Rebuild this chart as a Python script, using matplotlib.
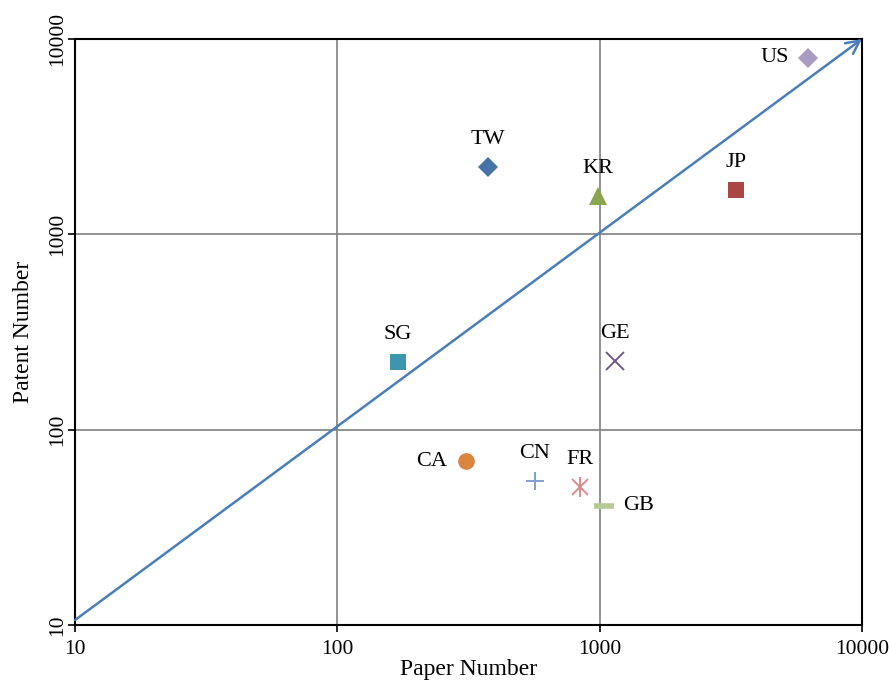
import matplotlib
matplotlib.use("Agg")
import matplotlib.pyplot as plt

plt.rcParams['font.family'] = ['Liberation Serif', 'DejaVu Serif']

# country data: paper count vs patent count
countries = ['TW', 'KR', 'JP', 'US', 'SG', 'GE', 'CA', 'CN', 'FR', 'GB']
papers = [375, 986, 3313, 6234, 170, 1145, 310, 567, 842, 1040]
patents = [2213, 1573, 1688, 8000, 222, 225, 69, 54.6, 50.9, 40.7]
markers = ['D', '^', 's', 'D', 's', 'x', 'o', '+', 'asterisk', '_']
colors = ['#4572A7', '#89A54E', '#AA4643', '#A99BC4', '#3D96AE',
          '#71588F', '#DB843D', '#7F9FD0', '#D98C8C', '#B5CA92']
label_pos = ['above', 'above', 'above', 'left', 'above',
             'above', 'left', 'above', 'above', 'right']

ticks = [10, 100, 1000, 10000]

fig = plt.figure(figsize=(8.89, 6.82), dpi=100)
ax = fig.add_axes([0.0844, 0.0836, 0.8852, 0.8592])
ax.set_xscale('log')
ax.set_yscale('log')
ax.set_xlim(10, 10000)
ax.set_ylim(10, 10000)

ax.grid(True, which='major', color='#808080', linewidth=1.2)
ax.set_axisbelow(True)

# diagonal reference arrow
ax.annotate('', xy=(10000, 10000), xytext=(10, 10.6),
            arrowprops=dict(arrowstyle='->', color='#4A7EBB', lw=1.8,
                            mutation_scale=24, shrinkA=0, shrinkB=0),
            annotation_clip=False)

for name, x, y, m, c, pos in zip(countries, papers, patents, markers, colors, label_pos):
    if m == 'asterisk':
        ax.plot(x, y, marker='x', color=c, markersize=11, markeredgewidth=1.4,
                linestyle='none', zorder=3)
        ax.plot(x, y, marker='|', color=c, markersize=14, markeredgewidth=1.4,
                linestyle='none', zorder=3)
    elif m in ('x', '+'):
        ax.plot(x, y, marker=m, color=c, markersize=13, markeredgewidth=1.4,
                linestyle='none', zorder=3)
    elif m == '_':
        ax.plot(x, y, marker=m, color=c, markersize=15, markeredgewidth=4,
                linestyle='none', zorder=3)
    else:
        size = {'D': 10, '^': 13, 's': 12, 'o': 12}[m]
        ax.plot(x, y, marker=m, color=c, markersize=size, markeredgewidth=0,
                linestyle='none', zorder=3)
    if pos == 'above':
        ax.annotate(name, (x, y), xytext=(0, 20), textcoords='offset points',
                    ha='center', va='center', fontsize=16)
    elif pos == 'left':
        ax.annotate(name, (x, y), xytext=(-14, 0), textcoords='offset points',
                    ha='right', va='center', fontsize=16)
    else:
        ax.annotate(name, (x, y), xytext=(14, 0), textcoords='offset points',
                    ha='left', va='center', fontsize=16)

ax.set_xticks(ticks)
ax.set_yticks(ticks)
ax.set_xticklabels([str(t) for t in ticks], fontsize=15.5)
ax.set_yticklabels([str(t) for t in ticks], fontsize=15.5, rotation=90, va='center')
ax.minorticks_off()
ax.tick_params(direction='out', length=5, width=1.2, colors='black')
ax.tick_params(axis='x', pad=6)
ax.tick_params(axis='y', pad=1)
for s in ax.spines.values():
    s.set_linewidth(1.5)
    s.set_color('black')

ax.set_xlabel('Paper Number', fontsize=17, labelpad=0)
ax.set_ylabel('Patent Number', fontsize=17, labelpad=10)

fig.savefig('out.png', dpi=100)
